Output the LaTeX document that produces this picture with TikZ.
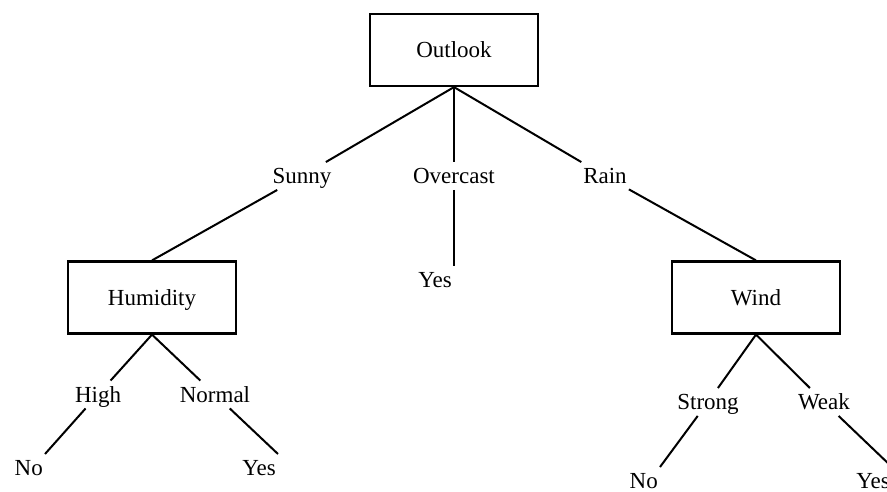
\documentclass[tikz,border=0pt]{standalone}
\usepackage{fontspec}
\setmainfont{Liberation Serif}
\begin{document}
\begin{tikzpicture}[x=1pt,y=-1pt,
  every node/.style={font=\fontsize{23}{26}\selectfont, text height=15.5pt, text depth=0pt},
  attr/.style={draw, line width=2.2pt, minimum width=168pt, minimum height=72pt, inner sep=0pt},
  val/.style={inner xsep=2pt, inner ysep=6pt},
  edge/.style={line width=2pt}]
\clip (0,0) rectangle (887,491);

% attribute boxes
\node[attr] (outlook)  at (454,50)    {Outlook};
\node[attr] (humidity) at (152,297.5) {Humidity};
\node[attr] (wind)     at (756,297.5) {Wind};

% branch values
\node[val] (sunny)    at (302,176) {Sunny};
\node[val] (overcast) at (454,176) {Overcast};
\node[val] (rain)     at (605,176) {Rain};
\node[val] (high)     at (98,394.5)  {High};
\node[val] (normal)   at (215,394.5) {Normal};
\node[val] (strong)   at (708,402)   {Strong};
\node[val] (weak)     at (824,402)   {Weak};

% leaves
\node[val, anchor=north east] (yesC) at (454,266) {Yes};
\node[val, anchor=north east] (noL)  at (45,454)  {No};
\node[val, anchor=north east] (yesL) at (278,454) {Yes};
\node[val, anchor=north east] (noR)  at (660,467) {No};
\node[val, anchor=north east] (yesR) at (892,467) {Yes};

% connectors
\draw[edge] (outlook.south) -- (sunny);
\draw[edge] (outlook.south) -- (overcast);
\draw[edge] (outlook.south) -- (rain);
\draw[edge] (sunny) -- (humidity.north);
\draw[edge] (overcast) -- (yesC.north east);
\draw[edge] (rain) -- (wind.north);
\draw[edge] (humidity.south) -- (high);
\draw[edge] (humidity.south) -- (normal);
\draw[edge] (high) -- (noL.north east);
\draw[edge] (normal) -- (yesL.north east);
\draw[edge] (wind.south) -- (strong);
\draw[edge] (wind.south) -- (weak);
\draw[edge] (strong) -- (noR.north east);
\draw[edge] (weak) -- (yesR.north east);
\end{tikzpicture}
\end{document}
